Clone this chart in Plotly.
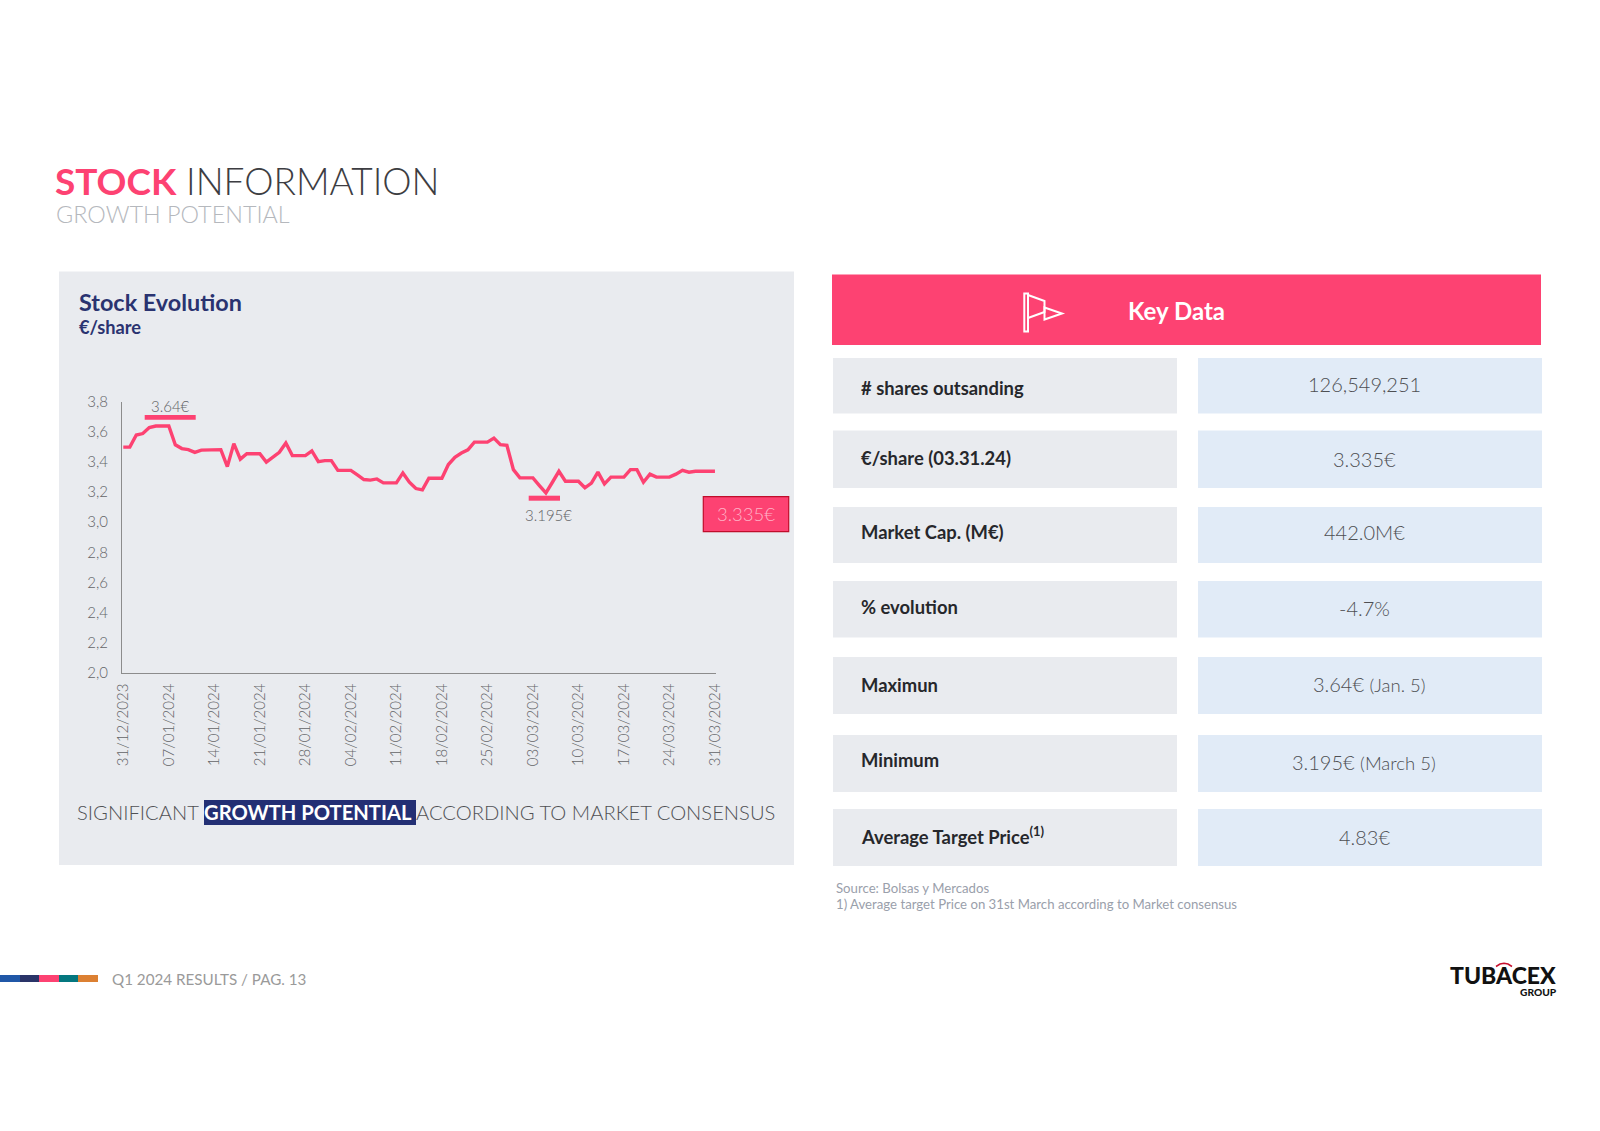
import pandas as pd
import plotly.graph_objects as go

W, H = 1600, 1131

# ---- data ----
price_values = [
    3.50, 3.50, 3.58, 3.59, 3.63, 3.64, 3.64, 3.64, 3.515, 3.49,
    3.483, 3.465, 3.48, 3.48, 3.48, 3.483, 3.37, 3.523, 3.42, 3.456,
    3.456, 3.456, 3.40, 3.434, 3.465, 3.527, 3.443, 3.443, 3.443, 3.474,
    3.403, 3.41, 3.41, 3.345, 3.345, 3.345, 3.315, 3.284, 3.28, 3.288,
    3.262, 3.262, 3.262, 3.328, 3.266, 3.224, 3.215, 3.293, 3.293, 3.293,
    3.384, 3.432, 3.46, 3.482, 3.533, 3.533, 3.533, 3.56, 3.516, 3.511,
    3.35, 3.295, 3.295, 3.295, 3.244, 3.195, 3.266, 3.339, 3.273, 3.273,
    3.273, 3.229, 3.26, 3.333, 3.255, 3.30, 3.30, 3.30, 3.35, 3.35,
    3.266, 3.32, 3.30, 3.30, 3.30, 3.32, 3.345, 3.333, 3.339, 3.339,
    3.339, 3.339,
]
price_dates = pd.date_range("2023-12-31", periods=len(price_values), freq="D")
x_tick_dates = pd.date_range("2023-12-31", "2024-03-31", freq="7D")
x_tick_labels = [d.strftime("%d/%m/%Y") for d in x_tick_dates]
y_tick_vals = [2.0, 2.2, 2.4, 2.6, 2.8, 3.0, 3.2, 3.4, 3.6, 3.8]
y_tick_labels = ["2,0", "2,2", "2,4", "2,6", "2,8", "3,0", "3,2", "3,4", "3,6", "3,8"]

table_labels = ["# shares outsanding", "€/share (03.31.24)", "Market Cap. (M€)", "% evolution",
                "Maximun", "Minimum", "Average Target Price<sup>(1)</sup>"]
small = "<span style='font-size:18.5px'>"
table_values = ["126,549,251", "3.335€", "442.0M€", "-4.7%",
                f"3.64€ {small}(Jan. 5)</span>", f"3.195€ {small}(March 5)</span>", "4.83€"]

# ---- style ----
PINK = "#fd4272"
NAVY = "#2a3370"
PANEL = "#e9ebef"
CELL = "#e1ebf7"
GREY = "#636467"
FONT = "Lato"


def px(x):
    return x / W


def py(y):
    return 1 - y / H


def rect(x0, y0, x1, y1, fill, line=None, width=0, layer="below"):
    return dict(type="rect", xref="paper", yref="paper", x0=px(x0), x1=px(x1), y0=py(y1), y1=py(y0),
                fillcolor=fill, line=dict(color=line or fill, width=width), layer=layer)


def path(points, close=False, color="white", width=2):
    d = "M " + " L ".join(f"{px(a):.5f},{py(b):.5f}" for a, b in points) + (" Z" if close else "")
    return dict(type="path", xref="paper", yref="paper", path=d, line=dict(color=color, width=width), layer="above")


def txt(x, y, text, size, color, anchor="left", weight=400):
    return dict(x=px(x), y=py(y), xref="paper", yref="paper", text=text, showarrow=False,
                xanchor=anchor, yanchor="middle", borderpad=0, borderwidth=0,
                font=dict(family=FONT, size=size, color=color, weight=weight))


shapes = [
    rect(59, 271.5, 794, 865, PANEL),
    rect(832, 274.5, 1541, 345, PINK),
    rect(144.7, 415, 195.7, 419.7, PINK, layer="above"),
    rect(528.7, 495.7, 560, 500.7, PINK, layer="above"),
    rect(703.3, 496.7, 788.7, 531.7, PINK, "#c00d2b", 1.2, layer="above"),
    rect(204, 800, 416, 825, "#232f74"),
    # flag icon
    rect(1024.3, 293.5, 1028, 331.5, "rgba(0,0,0,0)", "white", 2, layer="above"),
    path([(1028, 295), (1044.5, 301), (1044.5, 312), (1028, 318)]),
    path([(1044.5, 307.5), (1062, 313.5), (1044.5, 319.5)], close=True),
    # logo arc
    path([(1496, 966.5), (1500, 964), (1504, 963.3), (1508, 964), (1512, 966.5)], color="#c8102e", width=1.5),
]

row_tops = [358, 430.6, 507, 581, 657, 735, 809]
row_bottoms = [413.5, 488, 563, 637.5, 714, 792, 866]
label_centers = [388, 458, 531.5, 607, 685, 760, 835]
value_centers = [384, 459, 531.5, 608, 684, 762, 837]
value_xs = [1364, 1364, 1364, 1364, 1369.5, 1364, 1364]
for t, b in zip(row_tops, row_bottoms):
    shapes.append(rect(833, t, 1177, b, PANEL))
    shapes.append(rect(1198, t, 1542, b, CELL))

for x0, x1, c in [(0, 20, "#2057a7"), (20, 39, "#2a3468"), (39, 59, PINK), (59, 78, "#04777f"), (78, 98, "#dc8032")]:
    shapes.append(rect(x0, 975, x1, 982, c))

annotations = [
    txt(55, 180.5, "<b>STOCK</b>", 37, PINK, weight=700),
    txt(185.5, 180.5, "INFORMATION", 37, "#3d3d42", weight=300),
    txt(55.5, 214, "GROWTH POTENTIAL", 23.4, "#b5b8bd", weight=300),
    txt(79, 302, "Stock Evolution", 23.4, NAVY, weight=700),
    txt(79, 327, "€/share", 18.2, NAVY, weight=700),
    txt(1176.5, 310.5, "Key Data", 24, "white", "center", 700),
    txt(170.7, 406, "3.64€", 15, GREY, "center", 300),
    txt(548, 514.5, "3.195€", 15, GREY, "center", 300),
    txt(746, 513.5, "3.335€", 18.5, "#ffb3c7", "center", 300),
    txt(77, 812, "SIGNIFICANT", 20.2, "#505155", weight=300),
    txt(204, 812, "GROWTH POTENTIAL", 20.2, "white", weight=700),
    txt(415.5, 812, "ACCORDING TO MARKET CONSENSUS", 20.2, "#505155", weight=300),
    txt(836, 888, "Source: Bolsas y Mercados", 13.2, "#9aa0ab"),
    txt(836, 903.5, "1) Average target Price on 31st March according to Market consensus", 13.2, "#9aa0ab"),
    txt(112, 979, "Q1 2024 RESULTS / PAG. 13", 15.2, "#9a9a9a"),
    txt(1556, 975, "TUBACEX", 23, "#111111", "right", 900),
    txt(1556.5, 991.5, "GROUP", 10.2, "#111111", "right", 900),
]
for lab, lc, val, vc, vx in zip(table_labels, label_centers, table_values, value_centers, value_xs):
    annotations.append(txt(861, lc, lab, 18.4, "#26272b", weight=700))
    annotations.append(txt(vx, vc, val, 20, "#4e4f53", "center", 300))

fig = go.Figure(go.Scatter(
    x=price_dates, y=price_values, mode="lines",
    line=dict(color=PINK, width=3.4, shape="linear"),
    hoverinfo="skip", showlegend=False,
))

fig.update_layout(
    width=W, height=H, margin=dict(l=0, r=0, t=0, b=0, pad=0, autoexpand=False),
    paper_bgcolor="white", plot_bgcolor="rgba(0,0,0,0)",
    font=dict(family=FONT), shapes=shapes, annotations=annotations,
    xaxis=dict(domain=[px(122.0), px(715.5)], type="date",
               range=["2023-12-30 19:12", "2024-03-31 02:00"],
               tickvals=list(x_tick_dates), ticktext=x_tick_labels, tickangle=-90,
               showgrid=False, zeroline=False, showline=True, linecolor="#8c8c8c", linewidth=1.2,
               ticks="outside", ticklen=4, tickcolor="rgba(0,0,0,0)",
               tickfont=dict(family=FONT, size=15, color=GREY, weight=300)),
    yaxis=dict(domain=[py(672.5), py(402)], range=[2.0, 3.8],
               tickvals=y_tick_vals, ticktext=y_tick_labels,
               showgrid=False, zeroline=False, showline=True, linecolor="#8c8c8c", linewidth=1.2,
               ticks="outside", ticklen=10, tickcolor="rgba(0,0,0,0)",
               tickfont=dict(family=FONT, size=15, color=GREY, weight=300)),
)

fig.write_html("out.html", config={"displayModeBar": False}, post_script="document.body.style.margin='0';")
